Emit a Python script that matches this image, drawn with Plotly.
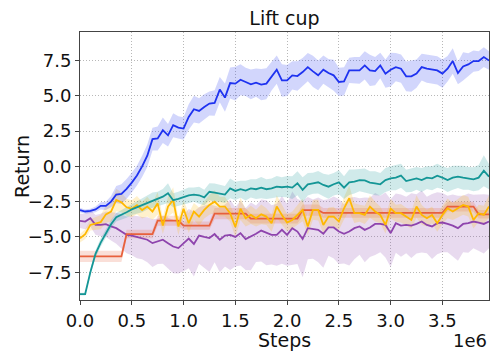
import plotly.graph_objects as go

# evaluation steps (every 50k env steps)
steps = list(range(0, 4_000_000, 50_000))

blue_mean = [-3.1, -3.2, -3.15, -3.05, -2.8, -2.8, -2.5, -2.0, -1.96, -1.6,
             -1.15, -0.65, 0.0, 0.75, 1.93, 1.98, 2.56, 2.2, 2.92, 2.75,
             2.68, 3.5, 4.05, 3.93, 4.21, 4.45, 4.49, 5.44, 4.87, 5.9,
             5.86, 6.14, 5.98, 5.81, 5.93, 5.79, 5.86, 6.38, 6.85, 6.09,
             6.09, 6.45, 6.4, 6.68, 7.03, 6.73, 6.45, 6.85, 6.61, 6.45,
             5.98, 6.02, 6.8, 6.8, 6.8, 7.15, 6.8, 6.75, 7.15, 6.57,
             6.85, 7.03, 6.92, 6.38, 6.38, 6.57, 7.03, 6.92, 6.85, 6.8,
             6.57, 6.92, 7.46, 6.61, 7.08, 7.22, 7.46, 7.46, 7.74, 7.5]
blue_std = [0.15, 0.15, 0.15, 0.2, 0.25, 0.3, 0.4, 0.6, 0.7, 0.7,
            0.7, 0.7, 0.75, 0.8, 0.8, 0.85, 0.9, 0.8, 0.85, 0.8,
            0.8, 0.9, 0.95, 0.9, 0.9, 0.85, 0.9, 0.9, 1.0, 1.1,
            1.2, 1.1, 1.0, 1.05, 1.0, 1.1, 1.1, 1.0, 1.0, 1.15,
            1.1, 1.0, 1.05, 1.0, 1.0, 1.1, 1.05, 1.0, 1.0, 1.1,
            1.0, 1.0, 0.9, 0.95, 0.95, 1.0, 1.1, 1.0, 0.9, 1.0,
            1.2, 1.0, 1.0, 1.05, 1.1, 1.0, 0.95, 1.0, 1.0, 1.0,
            1.0, 0.9, 0.9, 0.8, 1.0, 0.8, 0.75, 0.7, 0.7, 0.65]

teal_mean = [-9.05, -9.05, -7.5, -6.2, -5.4, -4.7, -4.1, -3.6, -3.45, -3.25,
             -3.05, -2.9, -2.75, -2.55, -2.4, -2.3, -2.15, -1.9, -2.4, -2.3,
             -2.15, -2.05, -2.0, -2.05, -2.2, -1.8, -1.86, -1.91, -2.0, -1.56,
             -1.74, -1.62, -1.72, -1.56, -1.62, -1.51, -1.62, -1.56, -1.44, -1.48,
             -1.44, -1.51, -1.2, -1.67, -1.27, -1.2, -1.13, -1.32, -1.44, -1.27,
             -1.13, -1.51, -1.13, -1.08, -0.97, -1.0, -1.15, -1.2, -1.27, -0.97,
             -0.85, -0.8, -0.66, -1.04, -0.97, -0.85, -0.97, -0.8, -0.85, -0.66,
             -0.8, -0.97, -0.8, -0.73, -0.8, -0.85, -0.92, -0.8, -0.31, -0.73]
teal_std = [0.1, 0.1, 0.2, 0.25, 0.3, 0.3, 0.3, 0.3, 0.35, 0.4,
            0.4, 0.45, 0.5, 0.5, 0.55, 0.5, 0.55, 0.7, 0.5, 0.5,
            0.5, 0.55, 0.5, 0.6, 0.55, 0.6, 0.65, 0.6, 0.6, 0.7,
            0.65, 0.6, 0.7, 0.65, 0.7, 0.75, 0.7, 0.7, 0.75, 0.7,
            0.75, 0.8, 0.85, 0.9, 0.8, 0.75, 0.8, 0.8, 0.85, 0.8,
            0.85, 0.8, 0.9, 0.85, 0.8, 0.85, 0.8, 0.85, 0.8, 0.85,
            0.85, 0.9, 0.85, 0.8, 0.85, 0.8, 0.85, 0.8, 0.85, 0.85,
            0.8, 0.85, 0.85, 0.8, 0.85, 0.8, 0.85, 0.9, 1.1, 0.9]

yellow_mean = [-5.1, -4.8, -4.15, -4.03, -3.95, -3.4, -3.2, -2.38, -2.55, -2.9,
               -3.0, -2.75, -3.1, -2.85, -3.2, -2.62, -4.2, -2.85, -2.38, -4.26,
               -3.0, -4.03, -3.2, -3.56, -3.09, -2.73, -2.5, -2.85, -2.85, -3.32,
               -4.3, -3.0, -3.67, -3.44, -3.67, -3.4, -3.56, -4.03, -2.85, -3.44,
               -3.98, -3.8, -3.44, -3.09, -4.26, -3.09, -3.09, -4.15, -3.56, -3.56,
               -3.91, -2.97, -2.26, -3.32, -3.32, -3.44, -2.85, -3.2, -3.44, -4.15,
               -3.0, -3.32, -3.32, -3.56, -3.8, -2.85, -3.44, -3.67, -3.44, -4.03,
               -3.44, -2.97, -3.2, -2.97, -2.73, -2.85, -3.8, -3.32, -3.44, -2.85]
yellow_std = [0.3, 0.35, 0.4, 0.45, 0.5, 0.6, 0.7, 0.8, 0.7, 0.6,
              0.6, 0.65, 0.6, 0.7, 0.6, 0.8, 0.6, 0.7, 0.9, 0.6,
              0.6, 0.7, 0.6, 0.65, 0.6, 0.7, 0.8, 0.7, 0.7, 0.6,
              0.7, 0.8, 0.6, 0.65, 0.6, 0.7, 0.6, 0.6, 0.8, 0.7,
              0.6, 0.6, 0.7, 0.8, 0.6, 0.7, 0.75, 0.6, 0.65, 0.7,
              0.6, 0.8, 0.9, 0.7, 0.6, 0.65, 0.8, 0.7, 0.6, 0.6,
              0.7, 0.6, 0.65, 0.6, 0.6, 0.8, 0.7, 0.6, 0.6, 0.6,
              0.65, 0.7, 0.6, 0.65, 0.7, 0.7, 0.6, 0.6, 0.65, 0.8]

red_mean = [-6.38, -6.38, -6.38, -6.38, -6.38, -6.38, -6.38, -6.38, -6.38, -4.8,
            -4.8, -4.8, -4.8, -4.8, -4.8, -3.85, -3.85, -3.85, -3.85, -3.85,
            -4.2, -4.2, -4.2, -4.2, -4.2, -4.2, -3.35, -3.35, -3.35, -3.35,
            -3.35, -3.35, -3.35, -3.7, -3.7, -3.7, -3.7, -3.7, -3.7, -3.7,
            -3.7, -3.7, -3.7, -3.1, -3.1, -3.1, -3.1, -3.3, -3.3, -3.3,
            -3.3, -3.3, -3.3, -3.3, -3.3, -3.3, -3.3, -3.3, -3.3, -3.3,
            -3.3, -3.3, -3.3, -3.3, -3.3, -3.3, -3.3, -3.3, -3.3, -3.3,
            -3.3, -2.85, -2.85, -2.85, -2.85, -2.85, -2.85, -3.4, -3.4, -3.4]
red_std = [0.4, 0.4, 0.4, 0.4, 0.4, 0.4, 0.4, 0.4, 0.4, 0.3,
           0.3, 0.3, 0.3, 0.3, 0.3, 0.35, 0.35, 0.35, 0.35, 0.35,
           0.3, 0.3, 0.3, 0.3, 0.3, 0.3, 0.4, 0.4, 0.4, 0.4,
           0.4, 0.4, 0.4, 0.35, 0.35, 0.35, 0.35, 0.35, 0.35, 0.35,
           0.35, 0.35, 0.35, 0.4, 0.4, 0.4, 0.4, 0.35, 0.35, 0.35,
           0.35, 0.35, 0.35, 0.35, 0.35, 0.35, 0.35, 0.35, 0.35, 0.35,
           0.35, 0.35, 0.35, 0.35, 0.35, 0.35, 0.35, 0.35, 0.35, 0.35,
           0.35, 0.35, 0.35, 0.35, 0.35, 0.35, 0.35, 0.3, 0.3, 0.3]

purple_mean = [-3.86, -3.91, -3.67, -4.15, -4.15, -4.1, -4.26, -4.38, -4.62, -4.85,
               -4.9, -5.01, -5.08, -5.2, -5.44, -5.32, -5.2, -5.44, -5.68, -5.79,
               -5.44, -5.12, -5.5, -4.9, -5.0, -5.08, -4.8, -5.2, -4.9, -4.85,
               -5.0, -4.73, -5.15, -4.97, -4.78, -4.55, -4.7, -4.85, -4.85, -4.5,
               -4.85, -4.38, -4.62, -5.15, -4.38, -4.45, -4.5, -4.78, -4.33, -4.33,
               -4.62, -4.78, -4.62, -4.38, -4.26, -4.5, -4.33, -4.08, -4.08, -4.15,
               -4.73, -4.03, -4.2, -4.15, -4.2, -4.08, -3.91, -4.15, -4.26, -4.03,
               -3.98, -4.08, -4.2, -4.38, -4.08, -4.03, -3.91, -3.98, -4.08, -3.91]
purple_std = [0.5, 0.55, 0.6, 0.7, 0.8, 0.9, 1.0, 1.1, 1.2, 1.3,
              1.4, 1.5, 1.5, 1.6, 1.7, 1.6, 1.7, 1.8, 1.9, 1.8,
              2.0, 2.1, 2.3, 2.0, 2.2, 2.4, 2.0, 2.3, 2.2, 2.5,
              2.1, 2.3, 2.2, 2.4, 2.0, 2.2, 2.3, 2.1, 2.2, 2.4,
              2.2, 2.6, 2.3, 2.7, 2.2, 2.1, 2.3, 2.4, 2.0, 2.2,
              2.3, 2.1, 2.4, 2.2, 2.0, 2.3, 2.1, 2.2, 2.0, 2.3,
              2.4, 2.1, 2.2, 2.0, 2.3, 2.1, 2.2, 2.0, 2.3, 2.2,
              2.1, 2.0, 2.2, 2.3, 2.0, 2.1, 1.9, 2.0, 2.1, 1.9]

x_ticks = [0, 500_000, 1_000_000, 1_500_000, 2_000_000, 2_500_000, 3_000_000, 3_500_000]
x_tick_text = ["0.0", "0.5", "1.0", "1.5", "2.0", "2.5", "3.0", "3.5"]
y_ticks = [-7.5, -5.0, -2.5, 0.0, 2.5, 5.0, 7.5]

series = [
    (purple_mean, purple_std, (142, 68, 173)),
    (red_mean, red_std, (232, 96, 60)),
    (yellow_mean, yellow_std, (255, 184, 0)),
    (teal_mean, teal_std, (20, 150, 150)),
    (blue_mean, blue_std, (30, 50, 240)),
]

fig = go.Figure()

for mean, std, (r, g, b) in series:
    upper = [m + s for m, s in zip(mean, std)]
    lower = [m - s for m, s in zip(mean, std)]
    fig.add_trace(go.Scatter(x=steps, y=upper, mode='lines', line=dict(width=0),
                             showlegend=False, hoverinfo='skip'))
    fig.add_trace(go.Scatter(x=steps, y=lower, mode='lines', line=dict(width=0),
                             fill='tonexty', fillcolor=f'rgba({r},{g},{b},0.2)',
                             showlegend=False, hoverinfo='skip'))

for mean, std, (r, g, b) in series:
    fig.add_trace(go.Scatter(x=steps, y=mean, mode='lines',
                             line=dict(color=f'rgb({r},{g},{b})', width=1.8),
                             showlegend=False))

axis_style = dict(showline=True, mirror=True, linecolor='#444', linewidth=1,
                  ticks='outside', ticklen=4, tickcolor='#444', automargin=False,
                  showgrid=True, gridcolor='#b8b8b8', griddash='1px,2px', gridwidth=1,
                  zeroline=False, tickfont=dict(size=18, color='#111'))

fig.update_xaxes(range=[0, 3_950_000], tickvals=x_ticks, ticktext=x_tick_text,
                 **axis_style)
fig.update_yaxes(range=[-9.47, 9.52], tickvals=y_ticks, tickformat='.1f',
                 **axis_style)

# axis labels and the offset text, placed like matplotlib does
fig.add_annotation(text='Steps', xref='paper', yref='paper', x=0.5, y=-0.148,
                   xanchor='center', yanchor='middle', showarrow=False,
                   font=dict(size=19, color='#111'))
fig.add_annotation(text='Return', xref='paper', yref='paper', x=-0.142, y=0.5,
                   xanchor='center', yanchor='middle', textangle=-90, showarrow=False,
                   font=dict(size=19, color='#111'))
fig.add_annotation(text='1e6', xref='paper', yref='paper', x=1.0, y=-0.15,
                   xanchor='right', yanchor='middle', showarrow=False,
                   font=dict(size=18, color='#111'))

fig.update_layout(
    title=dict(text='Lift cup', x=0.5, xref='paper', y=0.95, yref='container',
               xanchor='center', yanchor='middle', font=dict(size=19, color='#111')),
    width=500, height=362,
    margin=dict(l=80, r=11, t=32, b=62),
    plot_bgcolor='white', paper_bgcolor='white',
    font=dict(family='DejaVu Sans'),
)

# drop the browser's default body margin so the figure sits at the page origin
fig.write_html("out.html", config={'displayModeBar': False},
               post_script="document.body.style.margin='0';")
